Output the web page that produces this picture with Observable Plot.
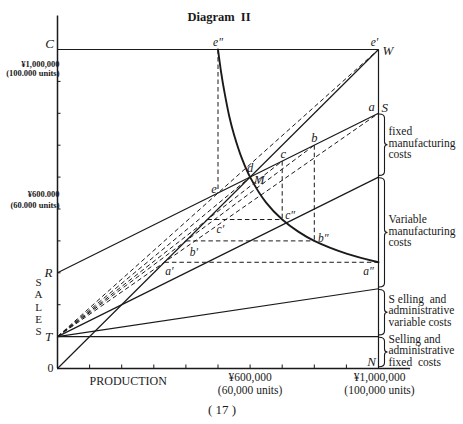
<!DOCTYPE html>
<html>
<head>
<meta charset="utf-8">
<script src="https://cdn.jsdelivr.net/npm/d3@7"></script>
<script src="https://cdn.jsdelivr.net/npm/@observablehq/plot@0.6"></script>
<style>
  html, body { margin: 0; padding: 0; background: #fff; }
  svg { display: block; }
</style>
</head>
<body>
<div id="chart"></div>
<script>
// ---------- data ----------
const maxValue = 1000000;          // C / W / N  (¥1,000,000 = 100,000 units)
const sellingFixed = 100000;       // T
const fixedTotal = 300000;         // R
const sellingVarAtMax = 250000;    // end of selling & admin variable cost line
const variableMfgAtMax = 600000;   // end of variable manufacturing cost line
const totalCostAtMax = 800000;     // S (a)
const tickValues = [100000, 200000, 300000, 400000, 500000, 600000, 700000, 800000, 900000, 1000000];
const axisXEnd = 1100000;
const axisYEnd = 1105000;

// points on the total cost line R–S
const costPointNames = ["e", "d", "c", "b", "a"];
const costPointX = [500000, 600000, 700000, 800000, 1000000];
const costPointY = [550000, 600000, 650000, 700000, 800000];

// where the T-rays cut the sales line 0–W
const primeNames = ["e′", "M", "c′", "b′", "a′"];
const primeValues = [1000000, 600000, 467000, 400000, 333000];

// double-prime points (on the curve)
const dblNames = ["e″", "c″", "b″", "a″"];
const dblX = [500000, 700000, 800000, 1000000];
const dblY = [1000000, 467000, 400000, 333000];

// the curve e″ – M – a″
const curveX = [500000, 510000, 520000, 535000, 550000, 575000, 600000, 650000, 700000, 750000, 800000, 900000, 1000000];
const curveY = [1000000, 927000, 867000, 791000, 733000, 657000, 600000, 520000, 467000, 429000, 400000, 360000, 333000];

// right-hand braces
const braceLow = [variableMfgAtMax, sellingVarAtMax, sellingFixed, 0];
const braceHigh = [totalCostAtMax, variableMfgAtMax, sellingVarAtMax, sellingFixed];
const braceLabels = [
  "fixed\nmanufacturing\ncosts",
  "Variable\nmanufacturing\ncosts",
  "S elling  and\nadministrative\nvariable costs",
  "Selling and\nadministrative\nfixed  costs"
];

// ---------- derived tables ----------
const solidSegs = [
  {x1: 0, y1: 0, x2: maxValue, y2: maxValue},                       // sales line 0–W
  {x1: 0, y1: maxValue, x2: maxValue, y2: maxValue},                // C–W
  {x1: maxValue, y1: 0, x2: maxValue, y2: maxValue},                // N–W
  {x1: 0, y1: sellingFixed, x2: maxValue, y2: sellingFixed},        // T horizontal
  {x1: 0, y1: sellingFixed, x2: maxValue, y2: sellingVarAtMax},
  {x1: 0, y1: sellingFixed, x2: maxValue, y2: variableMfgAtMax},
  {x1: 0, y1: fixedTotal, x2: maxValue, y2: totalCostAtMax}         // R–S
];
// dashed rays from T: T–W (through e), T–d, T–c, T–b, T–a
const rayEnds = [
  {x: maxValue, y: maxValue},
  ...costPointX.slice(1).map((x, i) => ({x, y: costPointY[i + 1]}))
];
const dashedSegs = [
  ...rayEnds.map(p => ({x1: 0, y1: sellingFixed, x2: p.x, y2: p.y})),
  // verticals
  {x1: dblX[0], y1: dblY[0], x2: costPointX[0], y2: costPointY[0]},
  {x1: costPointX[2], y1: costPointY[2], x2: dblX[1], y2: dblY[1]},
  {x1: costPointX[3], y1: costPointY[3], x2: dblX[2], y2: dblY[2]},
  // horizontals
  {x1: primeValues[2], y1: primeValues[2], x2: dblX[1], y2: dblY[1]},
  {x1: primeValues[3], y1: primeValues[3], x2: dblX[2], y2: dblY[2]},
  {x1: primeValues[4], y1: primeValues[4], x2: dblX[3], y2: dblY[3]}
];
const curve = curveX.map((x, i) => ({x, y: curveY[i]}));

// labels (offsets are styling, kept apart from data)
const labelOffsets = {
  "e": [-4, -4], "d": [0, -9], "c": [1, -7], "b": [0, -7], "a": [-7, -6],
  "e′": [-4, -7], "M": [9, 3], "c′": [13, 10], "b′": [8, 11], "a′": [5, 9],
  "e″": [0, -7], "c″": [8, -4], "b″": [9, -3], "a″": [-10, 9]
};
const pointLabels = [
  ...costPointNames.map((n, i) => ({n, x: costPointX[i], y: costPointY[i]})),
  ...primeNames.map((n, i) => ({n, x: primeValues[i], y: primeValues[i]})),
  ...dblNames.map((n, i) => ({n, x: dblX[i], y: dblY[i]}))
];
const braces = braceLow.map((lo, i) => ({lo, hi: braceHigh[i], label: braceLabels[i], mid: (lo + braceHigh[i]) / 2}));

const serif = "'Liberation Serif', 'DejaVu Serif', serif";
const ink = "#1a1a1a";

function braceMark(data) {
  return (index, scales) => {
    const x = scales.x, y = scales.y;
    const g = d3.create("svg:g").attr("fill", "none").attr("stroke", ink).attr("stroke-width", 1.1);
    const x0 = x(maxValue) + 1, xv = x0 + 5.5, xt = xv + 3;
    for (const b of data) {
      const y0 = y(b.hi) + 1.2, y1 = y(b.lo) - 1.2, ym = (y0 + y1) / 2;
      const p = `M${x0},${y0} Q${xv},${y0} ${xv},${y0 + 4} L${xv},${ym - 3} Q${xv},${ym} ${xt},${ym} Q${xv},${ym} ${xv},${ym + 3} L${xv},${y1 - 4} Q${xv},${y1} ${x0},${y1}`;
      g.append("path").attr("d", p);
    }
    return g.node();
  };
}

const plot = Plot.plot({
  width: 463,
  height: 424,
  marginLeft: 57,
  marginRight: 85,
  marginTop: 49,
  marginBottom: 56,
  x: {domain: [0, maxValue], axis: null},
  y: {domain: [0, maxValue], axis: null},
  style: {fontFamily: serif, color: ink, background: "#fff", overflow: "visible"},
  marks: [
    // axes
    Plot.ruleX([0], {y1: 0, y2: axisYEnd, stroke: ink, strokeWidth: 1.5}),
    Plot.ruleY([0], {x1: 0, x2: axisXEnd, stroke: ink, strokeWidth: 1.5}),
    Plot.ruleX(tickValues, {x: d => d, y1: 0, y2: 11000, stroke: ink, strokeWidth: 1}),
    Plot.ruleY(tickValues, {y: d => d, x1: 0, x2: 11000, stroke: ink, strokeWidth: 1}),
    // lines
    Plot.link(solidSegs, {x1: "x1", y1: "y1", x2: "x2", y2: "y2", stroke: ink, strokeWidth: 1.2}),
    Plot.link(dashedSegs, {x1: "x1", y1: "y1", x2: "x2", y2: "y2", stroke: ink, strokeWidth: 1, strokeDasharray: "4.5,3"}),
    Plot.line(curve, {x: "x", y: "y", curve: "catmull-rom", stroke: ink, strokeWidth: 1.9}),
    braceMark(braces),
    // point labels
    ...pointLabels.map(d => Plot.text([d], {
      x: "x", y: "y", text: "n",
      dx: labelOffsets[d.n][0], dy: labelOffsets[d.n][1],
      fontSize: d.n.length > 1 ? 11.5 : 12.5, fontStyle: "italic", fill: ink
    })),
    // axis letters
    Plot.text(["C"], {x: 0, y: maxValue, text: d => d, dx: -8, dy: -6, fontSize: 13, fontStyle: "italic", fill: ink}),
    Plot.text(["R"], {x: 0, y: fixedTotal, text: d => d, dx: -9, fontSize: 13, fontStyle: "italic", fill: ink}),
    Plot.text(["T"], {x: 0, y: sellingFixed, text: d => d, dx: -9, fontSize: 13, fontStyle: "italic", fill: ink}),
    Plot.text(["0"], {x: 0, y: 0, text: d => d, dx: -7, fontSize: 12, fill: ink}),
    Plot.text(["W"], {x: maxValue, y: maxValue, text: d => d, dx: 4, dy: 1, textAnchor: "start", fontSize: 13, fontStyle: "italic", fill: ink}),
    Plot.text(["S"], {x: maxValue, y: totalCostAtMax, text: d => d, dx: 3, dy: -5, textAnchor: "start", fontSize: 13, fontStyle: "italic", fill: ink}),
    Plot.text(["N"], {x: maxValue, y: 0, text: d => d, dx: -7, dy: -7, fontSize: 13, fontStyle: "italic", fill: ink}),
    Plot.text(["S\nA\nL\nE\nS"], {x: 0, y: 200000, text: d => d, dx: -19, dy: 2, fontSize: 11, lineHeight: 1.1, fill: ink}),
    // y-axis value labels
    Plot.text(["¥1,000,000\n(100.000 units)"], {x: 0, y: maxValue, text: d => d, dx: 2, dy: 19, textAnchor: "end", lineAnchor: "middle", fontSize: 8.5, fontWeight: "bold", lineHeight: 1.1, fill: ink}),
    Plot.text(["¥600.000\n(60.000 units)"], {x: 0, y: 600000, text: d => d, dx: 2, dy: 22, textAnchor: "end", lineAnchor: "middle", fontSize: 8.5, fontWeight: "bold", lineHeight: 1.3, fill: ink}),
    // x-axis labels
    Plot.text(["PRODUCTION"], {x: 100000, y: 0, text: d => d, dx: 0, dy: 8, textAnchor: "start", lineAnchor: "top", fontSize: 12, fill: ink}),
    Plot.text(["¥600,000\n(60,000 units)"], {x: 600000, y: 0, text: d => d, dy: 4, lineAnchor: "top", fontSize: 11.5, lineHeight: 1.08, fill: ink}),
    Plot.text(["¥1,000,000\n(100,000 units)"], {x: maxValue, y: 0, text: d => d, dx: 1, dy: 4, lineAnchor: "top", fontSize: 11.5, lineHeight: 1.08, fill: ink}),
    // brace labels
    Plot.text(braces, {x: maxValue, y: "mid", text: "label", dx: 10, dy: -2, textAnchor: "start", lineAnchor: "middle", fontSize: 11.5, lineHeight: 1.0, fill: ink}),
    // title and page number
    Plot.text(["Diagram  II"], {frameAnchor: "top", text: d => d, dx: 1, dy: -37, fontSize: 12.5, fontWeight: "bold", fill: ink}),
    Plot.text(["( 17 )"], {frameAnchor: "bottom", text: d => d, dx: 4, dy: 45, fontSize: 13, fill: ink})
  ]
});

document.getElementById("chart").appendChild(plot);
</script>
</body>
</html>
